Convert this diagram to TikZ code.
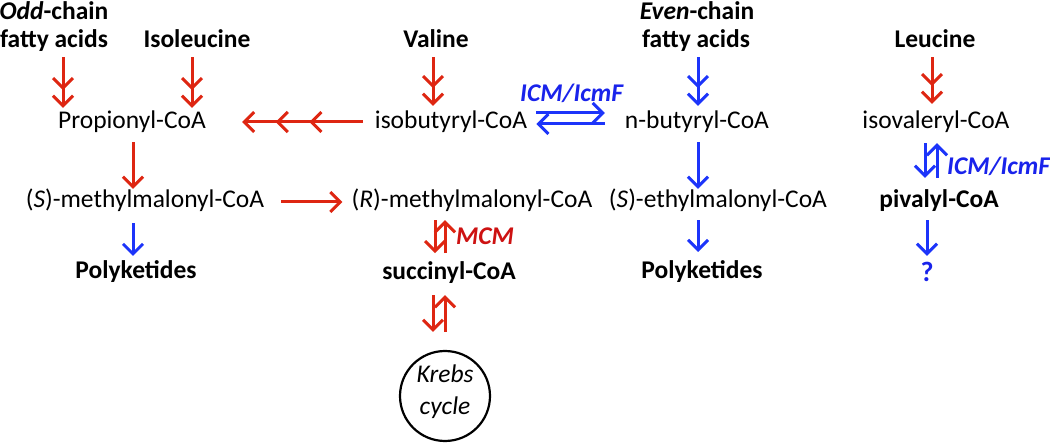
\documentclass[tikz,border=0pt]{standalone}
\usepackage{fontspec}
\setmainfont{Carlito}
\usetikzlibrary{arrows.meta}
\definecolor{pred}{RGB}{222,38,18}
\definecolor{pblue}{RGB}{28,52,250}
\definecolor{tred}{RGB}{205,18,18}
\definecolor{tblue}{RGB}{25,35,235}
\tikzset{
  lbl/.style={inner sep=0pt, anchor=base, font=\fontsize{25.5}{30}\selectfont, text height=19pt, text depth=6.4pt},
  blbl/.style={lbl, font=\fontsize{25.5}{30}\selectfont\bfseries},
  barb/.tip={Straight Barb[length=10pt,width=20pt]},
  one/.style={line width=3pt, -{barb}},
  two/.style={line width=3pt, -{barb[sep=4pt]barb}},
  three/.style={line width=3pt, -{barb[sep=20pt]barb[sep=20pt]barb}},
  rarr/.style={draw=pred},
  barr/.style={draw=pblue},
}
\begin{document}
\begin{tikzpicture}[x=1pt,y=-1pt]
\useasboundingbox (0,0) rectangle (1050,446);
% top sources
\node[blbl] (odd1) at (54,20) {\textit{Odd}-chain};
\node[blbl] (odd2) at (54,48) {fatty acids};
\node[blbl] (ile) at (197,48) {Isoleucine};
\node[blbl] (val) at (436,48) {Valine};
\node[blbl] (even1) at (697,20) {\textit{Even}-chain};
\node[blbl] (even2) at (696,48) {fatty acids};
\node[blbl] (leu) at (935,48) {Leucine};
% row 2
\node[lbl] (prop) at (132,129) {Propionyl-CoA};
\node[lbl] (isob) at (451,129) {isobutyryl-CoA};
\node[lbl] (nbut) at (697,129) {n-butyryl-CoA};
\node[lbl] (isov) at (936,129) {isovaleryl-CoA};
% row 3
\node[lbl] (smm) at (145,208) {(\textit{S})-methylmalonyl-CoA};
\node[lbl] (rmm) at (472,208) {(\textit{R})-methylmalonyl-CoA};
\node[lbl] (sem) at (718,208) {(\textit{S})-ethylmalonyl-CoA};
\node[blbl] (piv) at (939,208) {pivalyl-CoA};
% row 4
\node[blbl] (pk1) at (136,279) {Polyketides};
\node[blbl] (succ) at (449,280) {succinyl-CoA};
\node[blbl] (pk2) at (702,279) {Polyketides};
\node[blbl, font=\fontsize{28}{32}\selectfont\bfseries, text=tblue] (q) at (927,282) {?};
% enzyme labels
\node[blbl, text=tblue] (icm1) at (572,102) {\textit{ICM/IcmF}};
\node[blbl, text=tblue] (icm2) at (999,175) {\textit{ICM/IcmF}};
\node[blbl, text=tred] (mcm) at (485,245) {\textit{MCM}};
% Krebs cycle
\node[draw, line width=2.2pt, circle, minimum size=90pt, inner sep=0pt] (krebs) at (445,396) {};
\node[lbl, font=\fontsize{25.5}{30}\selectfont\itshape] (kr1) at (445,383) {Krebs};
\node[lbl, font=\fontsize{25.5}{30}\selectfont\itshape] (kr2) at (445,414) {cycle};
% arrows from sources (south at y=54.4, north of row 2 at y=110)
\draw[rarr, two, shorten <=2.6pt, shorten >=2pt] (odd2.south -| 63,0) -- (prop.north -| 63,0);
\draw[rarr, two, shorten <=2.6pt, shorten >=2pt] (ile.south -| 192,0) -- (prop.north -| 192,0);
\draw[rarr, two, shorten <=2.6pt, shorten >=4pt] (val.south -| 433,0) -- (isob.north -| 433,0);
\draw[barr, two, shorten <=2.6pt, shorten >=4pt] (even2.south -| 698,0) -- (nbut.north -| 698,0);
\draw[rarr, two, shorten <=2.6pt, shorten >=6pt] (leu.south -| 932,0) -- (isov.north -| 932,0);
% triple arrow
\draw[rarr, three, shorten <=12pt, shorten >=36pt] (isob.west |- 0,122) -- (prop.east |- 0,122);
% ICM equilibrium
\draw[barr, one, shorten <=9pt, shorten >=20pt] (isob.east |- 0,113) -- (nbut.west |- 0,113);
\draw[barr, one, shorten <=20pt, shorten >=9pt] (nbut.west |- 0,124) -- (isob.east |- 0,124);
% row2 -> row3 (south at 135.4, north at 189)
\draw[rarr, one, shorten <=6.6pt, shorten >=0pt] (prop.south -| 133,0) -- (smm.north -| 133,0);
\draw[barr, one, shorten <=6.6pt, shorten >=0pt] (nbut.south -| 698,0) -- (sem.north -| 698,0);
\draw[barr, one, shorten <=7.6pt, shorten >=11pt] (isov.south -| 925,0) -- (piv.north -| 925,0);
\draw[barr, one, shorten <=11pt, shorten >=7.6pt] (piv.north -| 937,0) -- (isov.south -| 937,0);
% S -> R
\draw[rarr, one, shorten <=17pt, shorten >=9pt] (smm.east |- 0,202) -- (rmm.west |- 0,202);
% row3 -> row4 (south at 214.4, north at 260)
\draw[barr, one, shorten <=8.6pt, shorten >=3.8pt] (smm.south -| 133,0) -- (pk1.north -| 133,0);
\draw[rarr, one, shorten <=5.6pt, shorten >=7.6pt] (rmm.south -| 435,0) -- (succ.north -| 435,0);
\draw[rarr, one, shorten <=7.6pt, shorten >=5.6pt] (succ.north -| 445,0) -- (rmm.south -| 445,0);
\draw[barr, one, shorten <=5.6pt, shorten >=7.8pt] (sem.south -| 698,0) -- (pk2.north -| 698,0);
\draw[barr, one, shorten <=5.6pt, shorten >=7pt] (piv.south -| 927,0) -- (q.north -| 927,0);
% succinyl <-> Krebs
\draw[rarr, one, shorten <=8.6pt, shorten >=18pt] (succ.south -| 433,0) -- (krebs.north -| 433,0);
\draw[rarr, one, shorten <=18pt, shorten >=8.6pt] (krebs.north -| 445,0) -- (succ.south -| 445,0);
\end{tikzpicture}
\end{document}
